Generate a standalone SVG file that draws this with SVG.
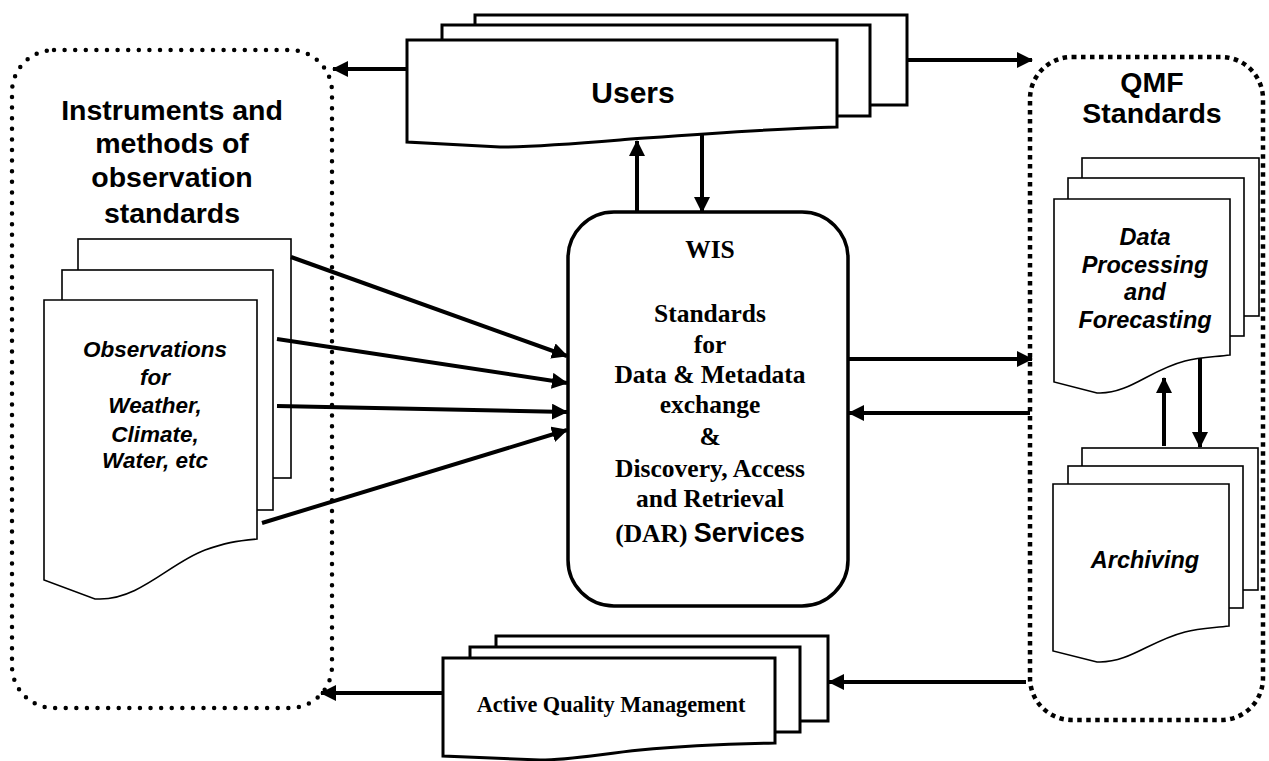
<svg xmlns="http://www.w3.org/2000/svg" width="1269" height="761" viewBox="0 0 1269 761">
<style>
.pg{fill:#fff;stroke:#000;stroke-width:3}
.pgt{fill:#fff;stroke:#000;stroke-width:1.6}
.con{fill:none;stroke:#000;stroke-width:4}
.ar{marker-end:url(#ah)}
.dotL{fill:none;stroke:#000;stroke-width:4.5;stroke-linecap:round;stroke-dasharray:0 10.6}
.dotR{fill:none;stroke:#000;stroke-width:4.5;stroke-dasharray:4.5 4.5}
.hA{font-family:"Liberation Sans",Arial,sans-serif;font-weight:bold;text-anchor:middle;fill:#000}
.hI{font-family:"Liberation Sans",Arial,sans-serif;font-weight:bold;font-style:italic;text-anchor:middle;fill:#000}
.tT{font-family:"Liberation Serif","Times New Roman",serif;font-weight:bold;text-anchor:middle;fill:#000}
</style>
<defs>
<marker id="ah" markerUnits="userSpaceOnUse" markerWidth="16" markerHeight="16" refX="15" refY="8" orient="auto">
<path d="M0,0 L16,8 L0,16 z" fill="#000"/>
</marker>
</defs>
<rect width="1269" height="761" fill="#fff"/>

<g id="container-left">
<rect class="dotL" x="12" y="50" width="320" height="658" rx="42"/>
<text class="hA" font-size="28.5" x="172" y="120">Instruments and</text>
<text class="hA" font-size="28.5" x="172" y="153">methods of</text>
<text class="hA" font-size="28.5" x="172" y="187">observation</text>
<text class="hA" font-size="28.5" x="172" y="223">standards</text>
</g>

<g id="container-right">
<rect class="dotR" x="1030" y="57" width="233" height="663" rx="42"/>
<text class="hA" font-size="28.5" x="1152" y="92">QMF</text>
<text class="hA" font-size="28.5" x="1152" y="123">Standards</text>
</g>

<g id="users">
<rect class="pg" x="475" y="15" width="432" height="90"/>
<rect class="pg" x="442" y="25" width="428" height="91"/>
<path class="pg" d="M407,40 H837 V127 C760,129 700,134 620,140 C560,145 520,147 500,147 L407,142 Z"/>
<text class="hA" font-size="30" x="633" y="103">Users</text>
</g>

<g id="wis">
<rect x="568" y="212" width="280" height="394" rx="46" fill="#fff" stroke="#000" stroke-width="3.5"/>
<text class="tT" font-size="25.5" x="710" y="258">WIS</text>
<text class="tT" font-size="25.5" x="710" y="322">Standards</text>
<text class="tT" font-size="25.5" x="710" y="353">for</text>
<text class="tT" font-size="25.5" x="710" y="383">Data &amp; Metadata</text>
<text class="tT" font-size="25.5" x="710" y="413">exchange</text>
<text class="tT" font-size="25.5" x="710" y="445">&amp;</text>
<text class="tT" font-size="25.5" x="710" y="477">Discovery, Access</text>
<text class="tT" font-size="25.5" x="710" y="507">and Retrieval</text>
<text x="710" y="542" text-anchor="middle"><tspan font-family="Liberation Serif,Times New Roman,serif" font-weight="bold" font-size="25.5">(DAR) </tspan><tspan font-family="Liberation Sans,Arial,sans-serif" font-weight="bold" font-size="27">Services</tspan></text>
</g>

<g id="observations">
<rect class="pgt" x="78" y="239" width="213" height="239"/>
<rect class="pgt" x="62" y="270" width="211" height="240"/>
<path class="pgt" d="M44,300 H257 V539 C235,541 225,543 205,550 C170,563 140,599 100,599 L95,599 L44,580 Z"/>
<text class="hI" font-size="22.5" x="155" y="357">Observations</text>
<text class="hI" font-size="22.5" x="155" y="385">for</text>
<text class="hI" font-size="22.5" x="155" y="413">Weather,</text>
<text class="hI" font-size="22.5" x="155" y="442">Climate,</text>
<text class="hI" font-size="22.5" x="155" y="468">Water, etc</text>
</g>

<g id="data-processing">
<rect class="pgt" x="1082" y="158" width="177" height="158"/>
<rect class="pgt" x="1068" y="178" width="176" height="158"/>
<path class="pgt" d="M1054,199 H1230 V355 C1215,357 1200,357 1185,361 C1150,370 1130,393 1100,393 L1097,393 L1054,382 Z"/>
<text class="hI" font-size="23.5" x="1145" y="245">Data</text>
<text class="hI" font-size="23.5" x="1145" y="273">Processing</text>
<text class="hI" font-size="23.5" x="1145" y="300">and</text>
<text class="hI" font-size="23.5" x="1145" y="328">Forecasting</text>
</g>

<g id="archiving">
<rect class="pgt" x="1082" y="448" width="176" height="142"/>
<rect class="pgt" x="1068" y="466" width="175" height="142"/>
<path class="pgt" d="M1053,484 H1229 V626 C1214,628 1200,628 1185,632 C1150,641 1130,662 1100,662 L1097,662 L1053,651 Z"/>
<text class="hI" font-size="23.5" x="1145" y="568">Archiving</text>
</g>

<g id="aqm">
<rect class="pg" x="496" y="636" width="332" height="85"/>
<rect class="pg" x="470" y="647" width="330" height="85"/>
<path class="pg" d="M443,658 H775 V743 C720,744 680,746 640,750 C600,754 570,760 540,760 L443,756 Z"/>
<text class="tT" font-size="22.3" x="611" y="712">Active Quality Management</text>
</g>

<g id="connectors">
<line class="con ar" x1="407" y1="69" x2="333" y2="69"/>
<line class="con ar" x1="907" y1="60" x2="1032" y2="60"/>
<line class="con ar" x1="637" y1="212" x2="637" y2="141"/>
<line class="con ar" x1="702" y1="135" x2="702" y2="212"/>
<line class="con ar" x1="291" y1="257" x2="567" y2="356"/>
<line class="con ar" x1="277" y1="339" x2="567" y2="383"/>
<line class="con ar" x1="277" y1="406" x2="567" y2="412"/>
<line class="con ar" x1="262" y1="523" x2="567" y2="430"/>
<line class="con ar" x1="848" y1="359" x2="1032" y2="359"/>
<line class="con ar" x1="1030" y1="413" x2="849" y2="413"/>
<line class="con ar" x1="1164" y1="446" x2="1164" y2="378"/>
<line class="con ar" x1="1200" y1="358" x2="1200" y2="447"/>
<line class="con ar" x1="1026" y1="682" x2="829" y2="682"/>
<line class="con ar" x1="443" y1="693" x2="321" y2="693"/>
</g>
</svg>
